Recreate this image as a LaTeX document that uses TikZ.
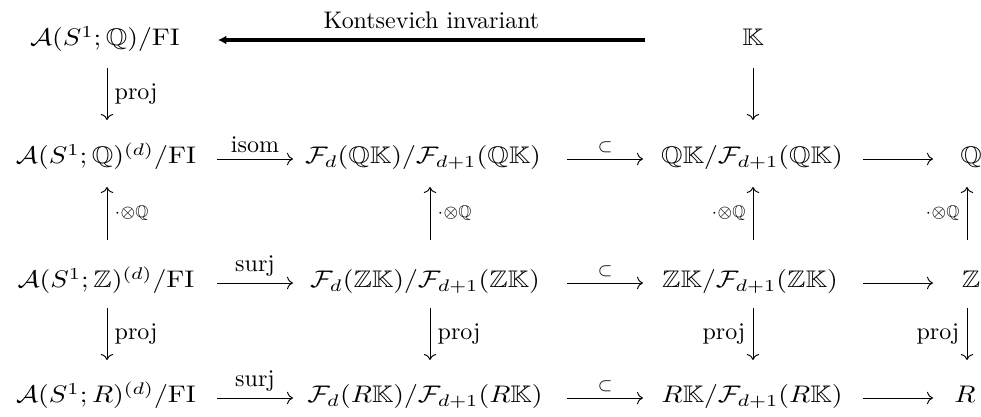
\documentclass[tikz,border=0pt]{standalone}
\usepackage{amsmath,amssymb}
\usetikzlibrary{calc,arrows.meta}
\newcommand{\wm}[1]{\scalebox{1.15}[1]{$#1$}}
\begin{document}
\begin{tikzpicture}[x=0.41667pt,y=-0.41667pt,
  obj/.style={anchor=base,inner sep=0pt},
  cd/.style={-{To}},
  kont/.style={{Latex[length=3.5pt,width=3.8pt]}-, line width=1.4pt},
  rl/.style={midway,right,inner sep=3pt},
  ll/.style={midway,left,inner sep=3pt},
  al/.style={midway,above,inner sep=2.5pt}]
\useasboundingbox (0,0) rectangle (981,417);
% row 1
\node[obj] (A1) at (105,46) {\wm{\mathcal{A}(S^1;\mathbb{Q})/\mathrm{FI}}};
\node[obj] (K) at (753,46) {\wm{\mathbb{K}}};
% row 2
\node[obj] (A2) at (106,164) {\wm{\mathcal{A}(S^1;\mathbb{Q})^{(d)}/\mathrm{FI}}};
\node[obj] (F2) at (423,164) {\wm{\mathcal{F}_d(\mathbb{Q}\mathbb{K})/\mathcal{F}_{d+1}(\mathbb{Q}\mathbb{K})}};
\node[obj] (Q2) at (752,164) {\wm{\mathbb{Q}\mathbb{K}/\mathcal{F}_{d+1}(\mathbb{Q}\mathbb{K})}};
\node[obj] (E2) at (971,164) {\wm{\mathbb{Q}}};
% row 3
\node[obj] (A3) at (106,288) {\wm{\mathcal{A}(S^1;\mathbb{Z})^{(d)}/\mathrm{FI}}};
\node[obj] (F3) at (425,288) {\wm{\mathcal{F}_d(\mathbb{Z}\mathbb{K})/\mathcal{F}_{d+1}(\mathbb{Z}\mathbb{K})}};
\node[obj] (Z3) at (750,288) {\wm{\mathbb{Z}\mathbb{K}/\mathcal{F}_{d+1}(\mathbb{Z}\mathbb{K})}};
\node[obj] (E3) at (971,288) {\wm{\mathbb{Z}}};
% row 4
\node[obj] (A4) at (106,403) {\wm{\mathcal{A}(S^1;R)^{(d)}/\mathrm{FI}}};
\node[obj] (F4) at (425,403) {\wm{\mathcal{F}_d(R\mathbb{K})/\mathcal{F}_{d+1}(R\mathbb{K})}};
\node[obj] (R4) at (752,403) {\wm{R\mathbb{K}/\mathcal{F}_{d+1}(R\mathbb{K})}};
\node[obj] (E4) at (965,403) {\wm{R}};
% Kontsevich arrow
\draw[kont] ($(A1.base)+(113,-6)$) -- ($(K.base)+(-108,-6)$)
  node[midway,above=4pt,inner sep=0pt] {Kontsevich invariant};
% vertical arrows row1 -> row2
\draw[cd] ($(A1.base)+(2,22)$) -- ($(A2.base)+(1,-44)$) node[rl] {proj};
\draw[cd] ($(K.base)+(0,22)$) -- ($(Q2.base)+(1,-44)$);
% up arrows row3 -> row2
\draw[cd] ($(A3.base)+(1,-48)$) -- ($(A2.base)+(1,23)$) node[rl] {$\scriptstyle\cdot\otimes\mathbb{Q}$};
\draw[cd] ($(F3.base)+(5,-48)$) -- ($(F2.base)+(7,23)$) node[rl] {$\scriptstyle\cdot\otimes\mathbb{Q}$};
\draw[cd] ($(Z3.base)+(3,-48)$) -- ($(Q2.base)+(1,23)$) node[ll] {$\scriptstyle\cdot\otimes\mathbb{Q}$};
\draw[cd] ($(E3.base)+(-4,-48)$) -- ($(E2.base)+(-4,23)$) node[ll] {$\scriptstyle\cdot\otimes\mathbb{Q}$};
% down arrows row3 -> row4
\draw[cd] ($(A3.base)+(1,20)$) -- ($(A4.base)+(1,-43)$) node[rl] {proj};
\draw[cd] ($(F3.base)+(5,20)$) -- ($(F4.base)+(5,-43)$) node[rl] {proj};
\draw[cd] ($(Z3.base)+(3,20)$) -- ($(R4.base)+(1,-43)$) node[ll] {proj};
\draw[cd] ($(E3.base)+(-4,20)$) -- ($(E4.base)+(2,-43)$) node[ll] {proj};
% row 2 horizontals
\draw[cd] ($(A2.base)+(111,-5)$) -- ($(F2.base)+(-130,-5)$) node[al] {isom};
\draw[cd] ($(F2.base)+(144,-5)$) -- ($(Q2.base)+(-109,-5)$) node[al] {$\scriptstyle\subset$};
\draw[cd] ($(Q2.base)+(111,-5)$) -- ($(E2.base)+(-38,-5)$);
% row 3 horizontals
\draw[cd] ($(A3.base)+(111,-5)$) -- ($(F3.base)+(-132,-5)$) node[al] {surj};
\draw[cd] ($(F3.base)+(142,-5)$) -- ($(Z3.base)+(-107,-5)$) node[al] {$\scriptstyle\subset$};
\draw[cd] ($(Z3.base)+(113,-5)$) -- ($(E3.base)+(-38,-5)$);
% row 4 horizontals
\draw[cd] ($(A4.base)+(111,-5)$) -- ($(F4.base)+(-132,-5)$) node[al] {surj};
\draw[cd] ($(F4.base)+(142,-5)$) -- ($(R4.base)+(-109,-5)$) node[al] {$\scriptstyle\subset$};
\draw[cd] ($(R4.base)+(111,-5)$) -- ($(E4.base)+(-32,-5)$);
\end{tikzpicture}
\end{document}
